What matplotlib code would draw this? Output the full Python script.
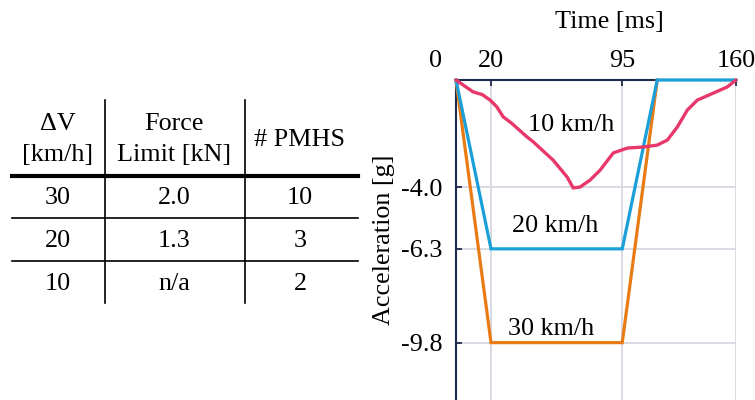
import matplotlib.pyplot as plt

# table data
header_top = ["\u0394V", "Force", "# PMHS"]
header_bottom = ["[km/h]", "Limit [kN]", ""]
rows = [
    ["30", "2.0", "10"],
    ["20", "1.3", "3"],
    ["10", "n/a", "2"],
]

# acceleration pulses
t_30 = [0, 20, 95, 115]
a_30 = [0, -9.8, -9.8, 0]
t_20 = [0, 20, 95, 115, 160]
a_20 = [0, -6.3, -6.3, 0, 0]
t_10 = [0, 5.7, 9.7, 12.6, 14.9, 19.5, 23.3, 26.9, 31.9, 40.5, 44, 55.5, 63.5, 67,
        71, 76.7, 82.4, 89.9, 97.9, 107, 115, 120.8, 126.5, 132.2, 137.9, 147, 155, 160]
a_10 = [0, -0.26, -0.44, -0.50, -0.54, -0.75, -1.0, -1.37, -1.62, -2.12, -2.3, -2.99, -3.62, -4.03,
        -3.99, -3.73, -3.36, -2.72, -2.54, -2.50, -2.43, -2.24, -1.75, -1.12, -0.75, -0.49, -0.26, 0]
x_ticks = [20, 95, 160]
y_ticks = [-4.0, -6.3, -9.8]

W, H = 755, 400
plt.rcParams['font.family'] = ['Liberation Serif', 'DejaVu Serif']
fs = 18.8
navy = '#1f2a4a'
grid_c = '#d6d8e2'

fig = plt.figure(figsize=(W / 100, H / 100), dpi=100)


def fx(px):
    return px / W


def fy(py):
    return 1 - py / H


# ---- table ----
col_x = [58, 174, 300]
for i in range(3):
    if header_bottom[i]:
        fig.text(fx(col_x[i]), fy(124), header_top[i], ha='center', va='center', fontsize=fs)
        fig.text(fx(col_x[i]), fy(155), header_bottom[i], ha='center', va='center', fontsize=fs)
    else:
        fig.text(fx(col_x[i]), fy(140), header_top[i], ha='center', va='center', fontsize=fs)

row_y = [198, 241, 284]
for r, y in zip(rows, row_y):
    for i, v in enumerate(r):
        fig.text(fx(col_x[i]), fy(y), v, ha='center', va='center', fontsize=fs)

lines = [
    ([12, 358], [176, 176], 3.0),
    ([12, 358], [218, 218], 1.2),
    ([12, 358], [261, 261], 1.2),
    ([105, 105], [100, 303], 1.2),
    ([245, 245], [100, 303], 1.2),
]
for xs, ys, lw in lines:
    fig.add_artist(plt.Line2D([fx(x) for x in xs], [fy(y) for y in ys],
                              color='black', lw=lw, transform=fig.transFigure))

# ---- chart ----
ax = fig.add_axes([fx(456), 0.0, fx(736) - fx(456), fy(80)])
ax.set_xlim(0, 160)
ax.set_ylim(-(H - 80) / 26.8, 0)

for v in x_ticks:
    ax.axvline(v, color=grid_c, lw=1.3, zorder=0)
for v in y_ticks:
    ax.axhline(v, color=grid_c, lw=1.3, zorder=0)

ax.plot(t_30, a_30, color='#e87b14', lw=2.3, solid_joinstyle='miter', zorder=3, clip_on=False)
ax.plot(t_20, a_20, color='#1a9fd8', lw=2.3, solid_joinstyle='miter', zorder=4, clip_on=False)
ax.plot(t_10, a_10, color='#e8386b', lw=2.4, solid_joinstyle='round', solid_capstyle='round',
        zorder=5, clip_on=False)

ax.text(65.8, -1.68, "10 km/h", ha='center', va='center', fontsize=fs, zorder=6)
ax.text(56.5, -5.45, "20 km/h", ha='center', va='center', fontsize=fs, zorder=6)
ax.text(54.5, -9.3, "30 km/h", ha='center', va='center', fontsize=fs, zorder=6)

ax.xaxis.tick_top()
ax.set_xticks(x_ticks)
ax.set_yticks(y_ticks)
ax.set_yticklabels([f"{v:.1f}" for v in y_ticks])
ax.tick_params(axis='x', direction='in', length=4, width=1.3, color=navy, labelsize=fs, pad=6)
ax.tick_params(axis='y', direction='in', length=4, width=1.3, color=navy, labelsize=fs, pad=10)
# the "0" sits left of the corner, level with the other tick labels
ax.text(-12, 1 + 19 / (H - 80), "0", transform=ax.get_xaxis_transform(),
        ha='center', va='center', fontsize=fs)

for s in ['right', 'bottom']:
    ax.spines[s].set_visible(False)
for s in ['left', 'top']:
    ax.spines[s].set_color(navy)
    ax.spines[s].set_linewidth(1.5)

ax.set_ylabel("Acceleration [g]", fontsize=fs)
ax.yaxis.set_label_coords(-(456 - 395) / 280, 1 - (240 - 80) / (H - 80))
fig.text(fx(609), fy(22), "Time [ms]", ha='center', va='center', fontsize=fs)

fig.savefig("out.png", dpi=100)
